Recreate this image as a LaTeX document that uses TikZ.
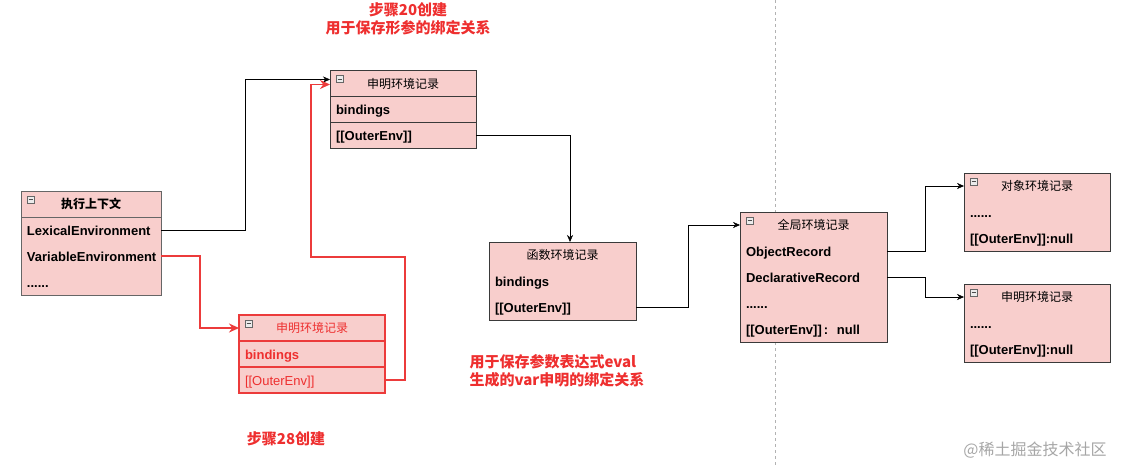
\documentclass[tikz,border=0pt]{standalone}
\usepackage{fontspec}
\setmainfont{Liberation Sans}
\newfontfamily\cjk{Noto Sans CJK SC}
\usetikzlibrary{arrows.meta, positioning, fit}

\definecolor{boxfill}{HTML}{F8CECC}
\definecolor{boxline}{HTML}{3A3A3A}
\definecolor{redline}{HTML}{EC3B3B}
\definecolor{redtext}{HTML}{EE2F2F}

\begin{document}
\begin{tikzpicture}[
  x=1pt, y=-1pt,
  hd/.style  = {draw=boxline, fill=boxfill, minimum height=26pt, minimum width=146pt,
                inner sep=0pt, outer sep=0pt, font=\cjk\fontsize{12}{13}\selectfont},
  rw/.style  = {fill=boxfill, minimum height=26pt, text width=#1, inner xsep=6pt, inner ysep=0pt,
                outer sep=0pt, align=left, text height=11pt, text depth=1pt,
                font=\bfseries\fontsize{13}{15}\selectfont},
  rw/.default = 134pt,
  frame/.style = {draw=boxline, inner sep=0pt},
  arr/.style  = {-{Stealth[length=7pt,width=6pt]}, thin},
  rarr/.style = {-{Stealth[length=10pt,width=9pt]}, draw=redline, line width=1.6pt},
  note/.style = {text=redtext, font=\cjk\bfseries\fontsize{15}{18}\selectfont},
  icon/.style = {draw=black!60, fill=black!8, line width=0.5pt},
]
\useasboundingbox (0,0) rectangle (1121,466);

% separator
\draw[black!30, dashed] (775,0) -- (775,466);

%--- execution context ---
\node[hd, minimum width=140pt, font=\cjk\bfseries\fontsize{12}{13}\selectfont] (ctxh) at (91,204) {执行上下文};
\node[rw=128pt, below=0pt of ctxh] (ctx1) {LexicalEnvironment};
\node[rw=128pt, below=0pt of ctx1] (ctx2) {VariableEnvironment};
\node[rw=128pt, below=0pt of ctx2] (ctx3) {......};
\node[frame, draw=black!60, fit=(ctxh)(ctx3)] {};
\draw[black!60] (ctxh.south west) -- (ctxh.south east);

%--- declarative record, step 20 ---
\node[hd] (d1h) at (403,83.5) {申明环境记录};
\node[rw, draw=boxline, below=0pt of d1h] (d1b) {bindings};
\node[rw, draw=boxline, below=0pt of d1b] (d1o) {[[OuterEnv]]};

%--- declarative record, step 28 ---
\node[hd, draw=redline, line width=1.3pt, text=redtext] (d2h) at (312,328) {申明环境记录};
\node[rw, draw=redline, line width=1.3pt, text=redtext, below=0pt of d2h] (d2b) {bindings};
\node[rw, draw=redline, line width=1.3pt, text=redtext, font=\fontsize{13}{15}\selectfont, below=0pt of d2b] (d2o) {[[OuterEnv]]};

%--- function record ---
\node[hd, minimum width=147pt] (fnh) at (562.5,255) {函数环境记录};
\node[rw=135pt, below=0pt of fnh] (fnb) {bindings};
\node[rw=135pt, below=0pt of fnb] (fno) {[[OuterEnv]]};
\node[frame, fit=(fnh)(fno)] {};

%--- global record ---
\node[hd, minimum width=147pt] (glh) at (813.5,225) {全局环境记录};
\node[rw=135pt, below=0pt of glh] (gl1) {ObjectRecord};
\node[rw=135pt, below=0pt of gl1] (gl2) {DeclarativeRecord};
\node[rw=135pt, below=0pt of gl2] (gl3) {......};
\node[rw=135pt, below=0pt of gl3] (gl4) {[[OuterEnv]]\,:\ \ null};
\node[frame, fit=(glh)(gl4)] {};

%--- object record ---
\node[hd] (obh) at (1037,186) {对象环境记录};
\node[rw, below=0pt of obh] (ob1) {......};
\node[rw, below=0pt of ob1] (ob2) {[[OuterEnv]]:null};
\node[frame, fit=(obh)(ob2)] {};

%--- declarative record, global ---
\node[hd] (d3h) at (1037,297) {申明环境记录};
\node[rw, below=0pt of d3h] (d31) {......};
\node[rw, below=0pt of d31] (d32) {[[OuterEnv]]:null};
\node[frame, fit=(d3h)(d32)] {};

% collapse icons
\foreach \h in {ctxh,d1h,d2h,glh,obh,d3h} {
  \draw[icon] ([shift={(6,5)}]\h.north west) rectangle ++(7,7);
  \draw[black!70, line width=0.6pt] ([shift={(7.5,8.5)}]\h.north west) -- ++(4,0);
}

% links
\draw[arr] (ctx1.east) -- ++(84,0) |- ([yshift=4pt]d1h.west);
\draw[rarr] (ctx2.east) -- ++(39,0) |- (d2h.west);
\coordinate (rbend) at (311,257);
\draw[rarr] (d2o.east) -- ++(20,0) |- (rbend) |- ([yshift=-1pt]d1h.west);
\draw[arr] (d1o.east) -- ++(94,0) -| ([xshift=7.5pt]fnh.north);
\draw[arr] (fno.east) -- ++(52,0) |- (glh.west);
\draw[arr] (gl1.east) -- ++(38,0) |- (obh.west);
\draw[arr] (gl2.east) -- ++(38,0) |- (d3h.west);

% notes
\node[note, align=center] (n20) at (408,19) {步骤20创建\\用于保存形参的绑定关系};
\node[note, align=left, anchor=west] (neval) at (466,371) {用于保存参数表达式eval\\生成的var申明的绑定关系};
\node[note] (n28) at (286,439) {步骤28创建};
\node[text=black!35, font=\cjk\fontsize{16}{18}\selectfont] (wm) at (1035,450) {@稀土掘金技术社区};
\end{tikzpicture}
\end{document}
